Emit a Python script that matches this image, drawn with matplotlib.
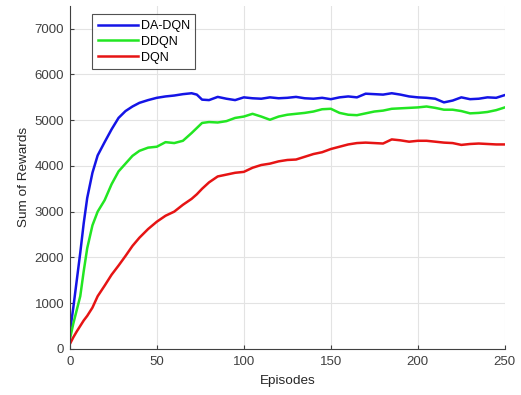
import numpy as np
import matplotlib.pyplot as plt

plt.rcParams['font.family'] = ['Liberation Sans', 'DejaVu Sans']

episodes = [0, 2, 4, 6, 8, 10, 13, 16, 20, 24, 28, 32, 36, 40, 45, 50, 55, 60, 65, 70,
            73, 76, 80, 85, 90, 95, 100, 105, 110, 115, 120, 125, 130, 135, 140, 145,
            150, 155, 160, 165, 170, 175, 180, 185, 190, 195, 200, 205, 210, 215, 220,
            225, 230, 235, 240, 245, 250]

da_dqn = [350, 900, 1500, 2100, 2750, 3300, 3850, 4230, 4520, 4800, 5050, 5200, 5300, 5380,
          5440, 5490, 5520, 5540, 5570, 5590, 5560, 5450, 5440, 5510, 5470, 5440, 5500, 5480,
          5470, 5500, 5480, 5490, 5510, 5480, 5470, 5490, 5460, 5500, 5520, 5500, 5580, 5570,
          5560, 5590, 5560, 5520, 5500, 5490, 5470, 5390, 5430, 5500, 5460, 5470, 5500, 5490,
          5550]

ddqn = [200, 550, 850, 1150, 1700, 2200, 2700, 3000, 3250, 3600, 3880, 4050, 4220, 4330,
        4400, 4420, 4520, 4500, 4550, 4720, 4830, 4940, 4960, 4950, 4980, 5050, 5080, 5140,
        5080, 5010, 5080, 5120, 5140, 5160, 5190, 5240, 5250, 5160, 5120, 5110, 5150, 5190,
        5210, 5250, 5260, 5270, 5280, 5300, 5270, 5230, 5230, 5200, 5150, 5160, 5180, 5220,
        5280]

dqn = [100, 250, 380, 500, 620, 720, 900, 1150, 1380, 1620, 1820, 2030, 2250, 2430, 2620,
       2780, 2910, 3000, 3150, 3280, 3380, 3500, 3640, 3770, 3810, 3850, 3870, 3960, 4020,
       4050, 4100, 4130, 4140, 4200, 4260, 4300, 4370, 4420, 4470, 4500, 4510, 4500, 4490,
       4580, 4560, 4530, 4550, 4550, 4530, 4510, 4500, 4460, 4480, 4490, 4480, 4470, 4470]

fig = plt.figure(figsize=(5.21, 3.95), dpi=100)
ax = fig.add_axes([0.134, 0.117, 0.835, 0.868])

ax.plot(episodes, da_dqn, color='#1414e6', lw=1.8, label='DA-DQN')
ax.plot(episodes, ddqn, color='#22e622', lw=1.8, label='DDQN')
ax.plot(episodes, dqn, color='#e61414', lw=1.8, label='DQN')

ax.set_xlim(0, 250)
ax.set_ylim(0, 7500)
ax.set_xticks([0, 50, 100, 150, 200, 250])
ax.set_yticks([0, 1000, 2000, 3000, 4000, 5000, 6000, 7000])
ax.grid(True, color='#e3e3e3', lw=0.8)
ax.set_axisbelow(True)
for s in ['top', 'right']:
    ax.spines[s].set_visible(False)
for s in ['left', 'bottom']:
    ax.spines[s].set_color('#404040')
ax.tick_params(direction='in', length=3, colors='#404040', labelsize=9.5)
ax.tick_params(axis='x', pad=5.5)
ax.tick_params(axis='y', pad=4)
ax.set_xlabel('Episodes', fontsize=9.7, color='#262626', labelpad=5)
ax.set_ylabel('Sum of Rewards', fontsize=9.7, color='#262626', labelpad=3.5)

leg = ax.legend(loc='upper left', bbox_to_anchor=(0.052, 0.975), fontsize=9,
                frameon=True, fancybox=False, edgecolor='#262626', handlelength=3.2,
                borderpad=0.45, labelspacing=0.3, handletextpad=0.2, borderaxespad=0)
leg.get_frame().set_linewidth(0.8)

plt.savefig('out.png', dpi=100)
